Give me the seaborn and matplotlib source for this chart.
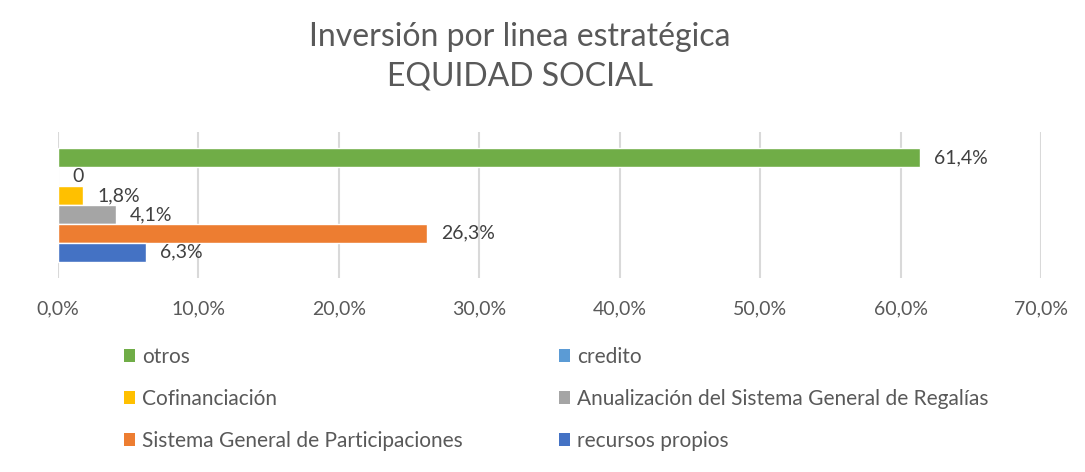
import matplotlib
matplotlib.use("Agg")
import matplotlib.pyplot as plt
from matplotlib.patches import Patch
import pandas as pd
import seaborn as sns

# data
categoria = "EQUIDAD SOCIAL"
fuentes = [
    "otros",
    "credito",
    "Cofinanciación",
    "Anualización del Sistema General de Regalías",
    "Sistema General de Participaciones",
    "recursos propios",
]
valores = [61.4, 0.0, 1.8, 4.1, 26.3, 6.3]
colores = ["#70AD47", "#5B9BD5", "#FFC000", "#A5A5A5", "#ED7D31", "#4472C4"]
ticks = [0, 10, 20, 30, 40, 50, 60, 70]


def fmt_pct(v):
    return f"{v:.1f}%".replace(".", ",")


df = pd.DataFrame({"linea": categoria, "fuente": fuentes, "valor": valores})

sns.set_style("white")
plt.rcParams["font.family"] = ["Lato", "DejaVu Sans"]

W, H = 1085, 472
fig = plt.figure(figsize=(W / 100, H / 100), dpi=100)
ax = fig.add_axes([58 / W, 1 - 278 / H, (1041 - 58) / W, (278 - 132) / H])

sns.barplot(
    data=df, x="valor", y="linea", hue="fuente", hue_order=fuentes,
    palette=colores, orient="h", width=0.775, legend=False, ax=ax,
    saturation=1,
)

for cont, v in zip(ax.containers, valores):
    lab = "0" if v == 0 else fmt_pct(v)
    ax.bar_label(cont, labels=[lab], padding=10, fontsize=14, color="#404040")

ax.set_xlim(0, 70)
ax.set_ylim(0.5, -0.5)
ax.set_xticks(ticks)
ax.set_xticklabels([fmt_pct(t) for t in ticks])
ax.set_yticks([])
ax.set_xlabel("")
ax.set_ylabel("")
ax.tick_params(axis="x", length=0, pad=16, labelsize=14, labelcolor="#595959")
ax.grid(axis="x", color="#D9D9D9", linewidth=1.5)
ax.set_axisbelow(True)
sns.despine(ax=ax, left=True, bottom=True)

tx = 520 / W
fig.text(tx, 1 - 37 / H, "Inversión por linea estratégica", ha="center",
         va="center", fontsize=23, color="#595959")
fig.text(tx, 1 - 77 / H, "EQUIDAD SOCIAL", ha="center", va="center",
         fontsize=23, color="#595959")

# legend laid out row by row like the original
handles = [Patch(facecolor=c, edgecolor="none") for c in colores]
col_left = [0, 2, 4]
col_right = [1, 3, 5]
for idx, x in [(col_left, 124), (col_right, 559)]:
    fig.legend(
        [handles[i] for i in idx], [fuentes[i] for i in idx],
        loc="upper left", bbox_to_anchor=(x / W, 1 - 347 / H),
        frameon=False, fontsize=15, labelcolor="#595959",
        handlelength=0.55, handleheight=0.55, handletextpad=0.3,
        labelspacing=1.05, borderpad=0, borderaxespad=0,
    )

fig.savefig("out.png", dpi=100, facecolor="white")
